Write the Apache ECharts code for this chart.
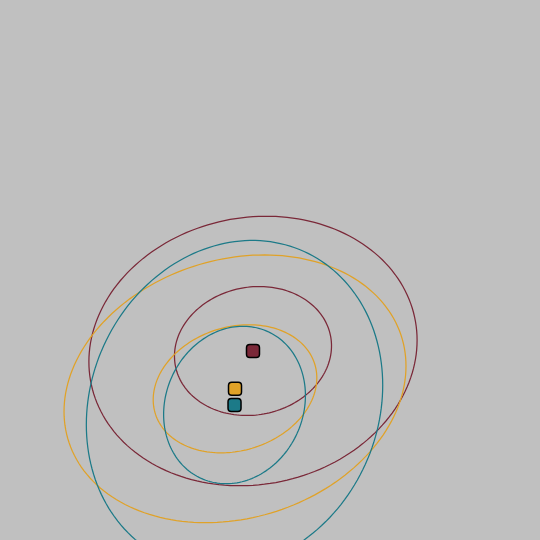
<!DOCTYPE html>
<html>
<head>
<meta charset="utf-8">
<script src="https://cdn.jsdelivr.net/npm/echarts@6/dist/echarts.min.js"></script>
<style>
  html, body { margin: 0; padding: 0; background: #c0c0c0; }
  #chart { width: 540px; height: 540px; }
</style>
</head>
<body>
<div id="chart"></div>
<script>
// Groups (bivariate distributions shown as centre + confidence ellipses)
const groupNames = ['A', 'B', 'C'];
const groupColors = ['#7a2838', '#e0a228', '#1c7a88'];
const centerX = [4.685, 4.352, 4.343];
const centerY = [3.50, 2.80, 2.50];
const sdX = [1.454, 1.515, 1.313];
const sdY = [1.194, 1.186, 1.458];
const corr = [0.08, 0.17, 0.12];
// Ellipse scale levels (in standard deviations)
const levels = [1, 2.09];

const chart = echarts.init(document.getElementById('chart'), null, { renderer: 'canvas' });

function ellipseRenderer(color) {
  return function (params, api) {
    const cx = api.value(0), cy = api.value(1);
    const sx = api.value(2), sy = api.value(3);
    const r = api.value(4), k = api.value(5);
    const pts = [];
    const n = 180;
    const s = Math.sqrt(1 - r * r);
    for (let i = 0; i <= n; i++) {
      const t = (i / n) * Math.PI * 2;
      const c = Math.cos(t), sn = Math.sin(t);
      const x = cx + k * sx * c;
      const y = cy + k * sy * (r * c + s * sn);
      pts.push(api.coord([x, y]));
    }
    return {
      type: 'polyline',
      shape: { points: pts },
      style: { stroke: color, fill: null, lineWidth: 1.25 },
      silent: true
    };
  };
}

const series = [];
groupNames.forEach((name, g) => {
  series.push({
    type: 'custom',
    name: name,
    coordinateSystem: 'cartesian2d',
    renderItem: ellipseRenderer(groupColors[g]),
    data: levels.map(k => [centerX[g], centerY[g], sdX[g], sdY[g], corr[g], k]),
    encode: { x: 0, y: 1 },
    clip: true,
    z: 2
  });
});
series.push({
  type: 'scatter',
  data: groupNames.map((n, g) => ({
    value: [centerX[g], centerY[g]],
    itemStyle: { color: groupColors[g] }
  })),
  symbol: 'roundRect',
  symbolSize: 13,
  itemStyle: { borderColor: '#000000', borderWidth: 1.5, opacity: 1 },
  z: 5,
  silent: true
});

chart.setOption({
  backgroundColor: '#c0c0c0',
  animation: false,
  grid: { left: 0, right: 0, top: 0, bottom: 0 },
  xAxis: { type: 'value', min: 0, max: 10, show: false },
  yAxis: { type: 'value', min: 0, max: 10, show: false },
  series: series
});
</script>
</body>
</html>
